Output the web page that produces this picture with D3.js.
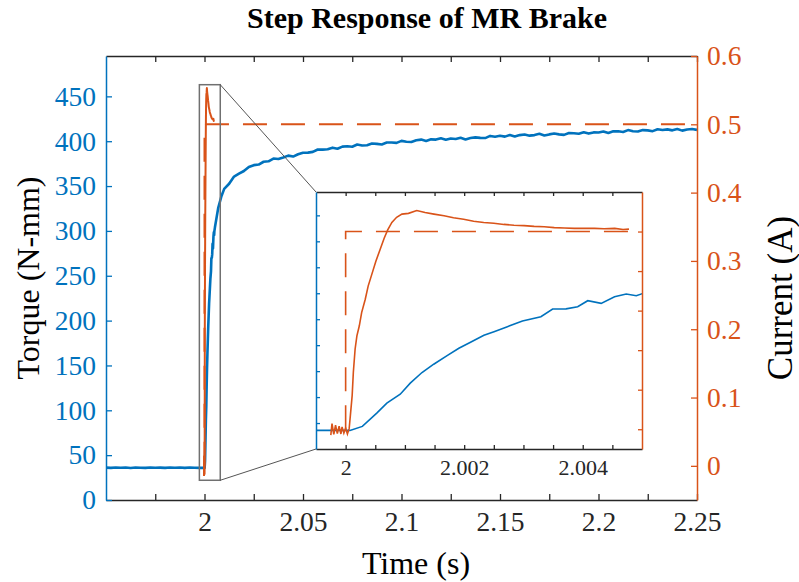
<!DOCTYPE html>
<html>
<head>
<meta charset="utf-8">
<script src="https://cdn.jsdelivr.net/npm/d3@7"></script>
<style>
  body { margin: 0; background: #fff; }
  text { font-family: "Liberation Serif", "Times New Roman", serif; }
</style>
</head>
<body>
<div id="chart"></div>
<script>
var svgWidth = 799;
var svgHeight = 582;

// main plot box and inset box (pixels)
var plot = {left: 106, right: 697, top: 56, bottom: 500};
var inset = {left: 316, right: 642, top: 192, bottom: 449};

var blue = "#0072BD";
var orange = "#D95319";
var axisGrey = "#262626";

// ---- data ----
// measured torque (N-mm)
var torqueTime = [
  1.95, 1.9525, 1.955, 1.9575, 1.96, 1.9625, 1.965, 1.9675, 1.97, 1.9725, 1.975,
  1.9775, 1.98, 1.9825, 1.985, 1.9875, 1.99, 1.9925, 1.995, 1.9975, 2.0,
  2.000073, 2.000282, 2.000525, 2.000695, 2.000921, 2.00109, 2.001288, 2.001486,
  2.001712, 2.00191, 2.002107, 2.002333, 2.002503, 2.002729, 2.002983, 2.003294,
  2.003492, 2.003718, 2.003915, 2.004085, 2.004311, 2.004537, 2.004734, 2.004904,
  2.005017, 2.0053, 2.007, 2.0085,
  2.0100, 2.0125, 2.0150, 2.0175, 2.0200, 2.0225, 2.0250, 2.0275, 2.0300, 2.0325,
  2.0350, 2.0375, 2.0400, 2.0425, 2.0450, 2.0475, 2.0500, 2.0525, 2.0550, 2.0575,
  2.0600, 2.0625, 2.0650, 2.0675, 2.0700, 2.0725, 2.0750, 2.0775, 2.0800, 2.0825,
  2.0850, 2.0875, 2.0900, 2.0925, 2.0950, 2.0975, 2.1000, 2.1025, 2.1050, 2.1075,
  2.1100, 2.1125, 2.1150, 2.1175, 2.1200, 2.1225, 2.1250, 2.1275, 2.1300, 2.1325,
  2.1350, 2.1375, 2.1400, 2.1425, 2.1450, 2.1475, 2.1500, 2.1525, 2.1550, 2.1575,
  2.1600, 2.1625, 2.1650, 2.1675, 2.1700, 2.1725, 2.1750, 2.1775, 2.1800, 2.1825,
  2.1850, 2.1875, 2.1900, 2.1925, 2.1950, 2.1975, 2.2000, 2.2025, 2.2050, 2.2075,
  2.2100, 2.2125, 2.2150, 2.2175, 2.2200, 2.2225, 2.2250, 2.2275, 2.2300, 2.2325,
  2.2350, 2.2375, 2.2400, 2.2425, 2.2450, 2.2475, 2.2500
];
var torqueValue = [
  36.1, 35.8, 36.3, 35.9, 36.2, 35.7, 36.2, 36.0, 35.8, 36.3, 35.9,
  36.1, 35.8, 36.2, 35.9, 36.2, 35.8, 36.3, 36.0, 35.8, 35.8,
  35.8, 43.5, 69.1, 88.3, 105.6, 126.8, 147.3, 163.3,
  179.9, 194.0, 205.6, 219.0, 226.0, 235.6, 246.5, 254.9,
  269.6, 269.9, 274.1, 285.6, 280.5, 293.3, 298.4, 295.2,
  299.7, 304, 326, 338,
  346.9, 352.6, 360.6, 363.8, 366.8, 371.3, 373.3, 374.0, 377.1, 377.6,
  380.7, 380.2, 381.9, 383.9, 382.9, 385.5, 387.2, 387.3, 388.1, 390.8,
  390.6, 391.0, 392.8, 391.6, 394.0, 394.3, 393.9, 396.3, 395.3, 395.5,
  397.4, 397.0, 396.4, 398.5, 398.6, 398.1, 400.4, 399.4, 399.1, 401.0,
  401.8, 400.3, 402.1, 401.8, 403.3, 401.7, 403.1, 402.4, 403.9, 402.0,
  403.6, 404.3, 403.7, 403.5, 405.9, 405.0, 406.0, 405.1, 406.9, 405.3,
  406.8, 407.5, 406.2, 406.8, 408.2, 406.4, 407.6, 408.5, 407.6, 407.1,
  409.2, 408.8, 408.3, 410.0, 408.5, 409.8, 409.7, 410.9, 409.2, 411.0,
  411.1, 410.3, 412.4, 411.1, 410.8, 412.4, 412.1, 411.2, 413.4, 412.5,
  413.2, 412.1, 413.6, 411.8, 413.1, 413.6, 412.6
];

// measured current (A)
var currentTime = [
  1.99975, 1.99977, 1.9998, 1.99983, 1.99986, 1.99989, 1.99992, 1.99994, 1.99997,
  2.0, 2.00003, 2.00006, 2.00008, 2.00011, 2.00013, 2.00016, 2.00019, 2.00023,
  2.00027, 2.00033, 2.00038, 2.00044, 2.00051, 2.00058, 2.00065, 2.00071, 2.00078,
  2.00086, 2.00095, 2.00106, 2.0012, 2.00134, 2.00149, 2.00166, 2.00182, 2.00199,
  2.00216, 2.00233, 2.0025, 2.00267, 2.00284, 2.00301, 2.00318, 2.00335, 2.00352,
  2.00369, 2.00386, 2.00403, 2.0042, 2.00436, 2.00454, 2.00468, 2.00478
];
var currentValue = [
  -0.015, 0.014, -0.013, 0.010, -0.011, 0.008, -0.012, 0.006, -0.010,
  0.003, -0.012, 0.002, 0.035, 0.085, 0.144, 0.203, 0.236, 0.261,
  0.295, 0.328, 0.362, 0.391, 0.425, 0.454, 0.483, 0.504, 0.523,
  0.536, 0.544, 0.546, 0.553, 0.548, 0.544, 0.540, 0.535, 0.531,
  0.526, 0.523, 0.521, 0.518, 0.516, 0.515, 0.513, 0.512, 0.510,
  0.509, 0.508, 0.508, 0.508, 0.507, 0.508, 0.505, 0.506
];

// commanded current step (A)
var refTime = [2.0, 2.0, 2.25];
var refValue = [0, 0.5, 0.5];

// tick values
var mainTimeTicks = [1.975, 2, 2.025, 2.05, 2.075, 2.1, 2.125, 2.15, 2.175, 2.2, 2.225, 2.25];
var mainTimeLabels = [2, 2.05, 2.1, 2.15, 2.2, 2.25];
var torqueTicks = [0, 50, 100, 150, 200, 250, 300, 350, 400, 450];
var currentTicks = [0, 0.1, 0.2, 0.3, 0.4, 0.5, 0.6];
var insetTimeTicks = [2, 2.0005, 2.001, 2.0015, 2.002, 2.0025, 2.003, 2.0035, 2.004, 2.0045];
var insetTimeLabels = [2, 2.002, 2.004];
var insetTorqueTicks = [50, 100, 150, 200, 250, 300, 350, 400, 450];
var insetCurrentTicks = [0, 0.1, 0.2, 0.3, 0.4, 0.5];

// zoom box on the main plot (data units)
var boxTime = [1.9974, 2.008];
var boxTorque = [22, 463];

var torqueData = torqueTime.map((t, i) => ({t: t, v: torqueValue[i]}));
var currentData = currentTime.map((t, i) => ({t: t, v: currentValue[i]}));
var refData = refTime.map((t, i) => ({t: t, v: refValue[i]}));

var svg = d3.select("#chart")
  .append("svg")
  .attr("width", svgWidth)
  .attr("height", svgHeight);

// scales
var xMain = d3.scaleLinear().domain([1.95, 2.25]).range([plot.left, plot.right]);
var yTorque = d3.scaleLinear().domain([0, 495]).range([plot.bottom, plot.top]);
var yCurrent = d3.scaleLinear().domain([-0.05, 0.6]).range([plot.bottom, plot.top]);

var xIn = d3.scaleLinear().domain([1.9995, 2.005]).range([inset.left, inset.right]);
var yTorqueIn = d3.scaleLinear().domain([0, 495]).range([inset.bottom, inset.top]);
var yCurrentIn = d3.scaleLinear().domain([-0.05, 0.6]).range([inset.bottom, inset.top]);

var defs = svg.append("defs");
defs.append("clipPath").attr("id", "clipMain")
  .append("rect")
  .attr("x", plot.left).attr("y", plot.top)
  .attr("width", plot.right - plot.left).attr("height", plot.bottom - plot.top);
defs.append("clipPath").attr("id", "clipInset")
  .append("rect")
  .attr("x", inset.left).attr("y", inset.top)
  .attr("width", inset.right - inset.left).attr("height", inset.bottom - inset.top);

function lineGen(xs, ys) {
  return d3.line().x(d => xs(d.t)).y(d => ys(d.v));
}

function styleAxis(g, color, fontSize) {
  g.select(".domain").attr("stroke", color).attr("stroke-width", 1.5);
  g.selectAll(".tick line").attr("stroke", color).attr("stroke-width", 1.3);
  g.selectAll(".tick text")
    .attr("fill", color)
    .style("font-size", fontSize + "px")
    .style("font-family", "'Liberation Serif', 'Times New Roman', serif");
}

// ---------- main plot ----------
var mainLines = svg.append("g").attr("clip-path", "url(#clipMain)");

mainLines.append("path")
  .datum(torqueData)
  .attr("fill", "none")
  .attr("stroke", blue)
  .attr("stroke-width", 2.6)
  .attr("stroke-linejoin", "round")
  .attr("d", lineGen(xMain, yTorque));

mainLines.append("path")
  .datum(refData)
  .attr("fill", "none")
  .attr("stroke", orange)
  .attr("stroke-width", 2)
  .attr("stroke-dasharray", "24,14")
  .attr("d", lineGen(xMain, yCurrent));

mainLines.append("path")
  .datum(currentData)
  .attr("fill", "none")
  .attr("stroke", orange)
  .attr("stroke-width", 2)
  .attr("stroke-linejoin", "round")
  .attr("d", lineGen(xMain, yCurrent));

// axes (ticks point inward)
var bottomAxis = d3.axisBottom(xMain)
  .tickValues(mainTimeTicks)
  .tickSizeInner(-6).tickSizeOuter(0).tickPadding(11)
  .tickFormat(d => mainTimeLabels.some(v => Math.abs(v - d) < 1e-9) ? d3.format("~g")(d) : "");
var xAxis = svg.append("g")
  .attr("transform", `translate(0, ${plot.bottom})`)
  .call(bottomAxis);
styleAxis(xAxis, axisGrey, 27.5);

var topAxis = d3.axisTop(xMain)
  .tickValues(mainTimeTicks)
  .tickSizeInner(-6).tickSizeOuter(0)
  .tickFormat("");
var xAxisTop = svg.append("g")
  .attr("transform", `translate(0, ${plot.top})`)
  .call(topAxis);
styleAxis(xAxisTop, axisGrey, 27.5);

var leftAxis = d3.axisLeft(yTorque)
  .tickValues(torqueTicks)
  .tickSizeInner(-6).tickSizeOuter(0).tickPadding(10);
var yAxisLeft = svg.append("g")
  .attr("transform", `translate(${plot.left}, 0)`)
  .call(leftAxis);
styleAxis(yAxisLeft, blue, 27.5);

var rightAxis = d3.axisRight(yCurrent)
  .tickValues(currentTicks)
  .tickSizeInner(-6).tickSizeOuter(0).tickPadding(10)
  .tickFormat(d3.format("~g"));
var yAxisRight = svg.append("g")
  .attr("transform", `translate(${plot.right}, 0)`)
  .call(rightAxis);
styleAxis(yAxisRight, orange, 27.5);

// zoom box and connectors
var bx0 = xMain(boxTime[0]), bx1 = xMain(boxTime[1]);
var by0 = yTorque(boxTorque[1]), by1 = yTorque(boxTorque[0]);

svg.append("rect")
  .attr("x", bx0).attr("y", by0)
  .attr("width", bx1 - bx0).attr("height", by1 - by0)
  .attr("fill", "none")
  .attr("stroke", "#707070")
  .attr("stroke-width", 1.5);

svg.append("line")
  .attr("x1", bx1).attr("y1", by0).attr("x2", inset.left).attr("y2", inset.top)
  .attr("stroke", "#555").attr("stroke-width", 1);
svg.append("line")
  .attr("x1", bx1).attr("y1", by1).attr("x2", inset.left).attr("y2", inset.bottom)
  .attr("stroke", "#555").attr("stroke-width", 1);

// ---------- inset ----------
svg.append("rect")
  .attr("x", inset.left).attr("y", inset.top)
  .attr("width", inset.right - inset.left).attr("height", inset.bottom - inset.top)
  .attr("fill", "#fff");

var insetLines = svg.append("g").attr("clip-path", "url(#clipInset)");

insetLines.append("path")
  .datum(torqueData)
  .attr("fill", "none")
  .attr("stroke", blue)
  .attr("stroke-width", 1.6)
  .attr("d", lineGen(xIn, yTorqueIn));

insetLines.append("path")
  .datum(refData)
  .attr("fill", "none")
  .attr("stroke", orange)
  .attr("stroke-width", 1.6)
  .attr("stroke-dasharray", "24,14")
  .attr("d", lineGen(xIn, yCurrentIn));

insetLines.append("path")
  .datum(currentData)
  .attr("fill", "none")
  .attr("stroke", orange)
  .attr("stroke-width", 1.6)
  .attr("d", lineGen(xIn, yCurrentIn));

var inBottom = d3.axisBottom(xIn)
  .tickValues(insetTimeTicks)
  .tickSizeInner(-4).tickSizeOuter(0).tickPadding(10)
  .tickFormat(d => insetTimeLabels.some(v => Math.abs(v - d) < 1e-9) ? d3.format("~g")(d) : "");
var inXAxis = svg.append("g")
  .attr("transform", `translate(0, ${inset.bottom})`)
  .call(inBottom);
styleAxis(inXAxis, axisGrey, 22);

var inTop = d3.axisTop(xIn)
  .tickValues(insetTimeTicks)
  .tickSizeInner(-4).tickSizeOuter(0)
  .tickFormat("");
var inXAxisTop = svg.append("g")
  .attr("transform", `translate(0, ${inset.top})`)
  .call(inTop);
styleAxis(inXAxisTop, axisGrey, 22);

var inLeft = d3.axisLeft(yTorqueIn)
  .tickValues(insetTorqueTicks)
  .tickSizeInner(-4).tickSizeOuter(0)
  .tickFormat("");
var inYLeft = svg.append("g")
  .attr("transform", `translate(${inset.left}, 0)`)
  .call(inLeft);
styleAxis(inYLeft, blue, 22);

var inRight = d3.axisRight(yCurrentIn)
  .tickValues(insetCurrentTicks)
  .tickSizeInner(-4).tickSizeOuter(0)
  .tickFormat("");
var inYRight = svg.append("g")
  .attr("transform", `translate(${inset.right}, 0)`)
  .call(inRight);
styleAxis(inYRight, orange, 22);

// ---------- labels ----------
svg.append("text")
  .attr("x", 427)
  .attr("y", 28)
  .attr("text-anchor", "middle")
  .style("font-size", "30px")
  .style("font-weight", "bold")
  .attr("fill", "#000")
  .text("Step Response of MR Brake");

svg.append("text")
  .attr("x", 416)
  .attr("y", 574)
  .attr("text-anchor", "middle")
  .style("font-size", "32px")
  .attr("fill", "#000")
  .text("Time (s)");

svg.append("text")
  .attr("transform", `translate(39, 278) rotate(-90)`)
  .attr("text-anchor", "middle")
  .style("font-size", "32px")
  .attr("fill", "#000")
  .text("Torque (N-mm)");

svg.append("text")
  .attr("transform", `translate(792, 298) rotate(-90)`)
  .attr("text-anchor", "middle")
  .style("font-size", "35px")
  .attr("fill", "#000")
  .text("Current (A)");
</script>
</body>
</html>
